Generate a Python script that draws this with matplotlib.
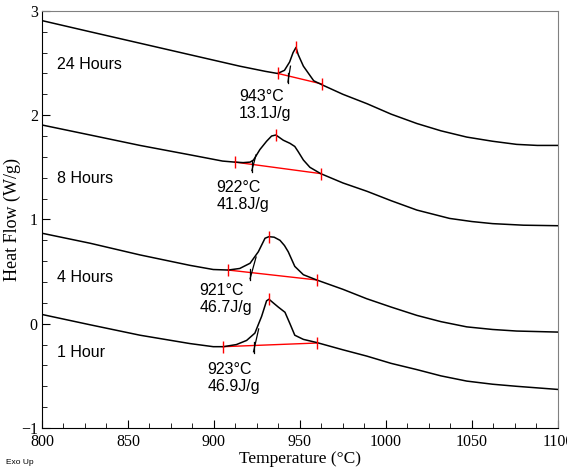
import matplotlib
matplotlib.use("Agg")
import matplotlib.pyplot as plt
from matplotlib.ticker import MultipleLocator, AutoMinorLocator

# DSC traces (temperature in C, heat flow in W/g)
t_24h = [800, 828, 857, 886, 915, 930, 937, 941, 944, 946, 947.7, 949, 952, 955, 958, 963,
         975, 989, 1003, 1018, 1032, 1047, 1062, 1076, 1088, 1100]
hf_24h = [2.907, 2.80, 2.69, 2.58, 2.47, 2.42, 2.40, 2.43, 2.51, 2.60, 2.65, 2.58, 2.47, 2.40,
          2.33, 2.29, 2.20, 2.11, 2.01, 1.92, 1.85, 1.79, 1.75, 1.72, 1.71, 1.71]

t_8h = [800, 828, 857, 886, 905, 912, 917, 921, 923, 926.7, 930.6, 933.5, 936, 940.3, 944.2,
        947, 949, 952, 955.8, 962, 975, 989, 1003, 1018, 1037, 1050, 1062, 1080, 1100]
hf_8h = [1.906, 1.81, 1.71, 1.62, 1.56, 1.55, 1.545, 1.55, 1.57, 1.67, 1.75, 1.80, 1.81, 1.76,
         1.73, 1.70, 1.65, 1.57, 1.50, 1.44, 1.35, 1.27, 1.18, 1.09, 1.01, 0.98, 0.96, 0.945, 0.94]

t_4h = [800, 828, 857, 886, 899.6, 908.3, 915, 921, 925.8, 929.7, 932, 935, 938.4, 941, 943.2,
        947, 952, 959.7, 975, 988.8, 1003, 1018, 1032, 1047, 1062, 1076, 1100]
hf_4h = [0.868, 0.772, 0.66, 0.56, 0.52, 0.515, 0.53, 0.58, 0.69, 0.82, 0.835, 0.83, 0.80, 0.75,
         0.69, 0.55, 0.47, 0.42, 0.33, 0.24, 0.16, 0.08, 0.02, -0.03, -0.055, -0.07, -0.08]

t_1h = [800, 828, 857, 886, 899.6, 905.4, 913, 919, 923.8, 927.7, 930.6, 932, 934.5, 937.4,
        941.3, 944.2, 947, 952, 959.7, 975, 988.8, 1003, 1018, 1032, 1047, 1062, 1076, 1100]
hf_1h = [0.089, -0.01, -0.11, -0.19, -0.22, -0.22, -0.20, -0.16, -0.09, 0.07, 0.22, 0.235, 0.20,
         0.16, 0.11, 0.0, -0.11, -0.15, -0.18, -0.25, -0.31, -0.38, -0.44, -0.50, -0.55, -0.58,
         -0.60, -0.63]

curves = [(t_24h, hf_24h), (t_8h, hf_8h), (t_4h, hf_4h), (t_1h, hf_1h)]
names = ["24 Hours", "8 Hours", "4 Hours", "1 Hour"]
name_y = [2.49, 1.39, 0.44, -0.28]

# integration baselines (start, end) and peak points
base_t = [(937.2, 962.6), (912.2, 962.0), (908.3, 959.7), (905.4, 959.7)]
base_hf = [(2.40, 2.30), (1.55, 1.44), (0.515, 0.42), (-0.22, -0.185)]
peak_t = [947.7, 936.0, 932.0, 932.0]
peak_hf = [2.65, 1.81, 0.835, 0.235]

# onset (extrapolated) and top of the tangent used
onset_t = [943, 922, 921, 923]
tan_top_t = [944.5, 924.5, 924.5, 926.0]
tan_top_hf = [2.47, 1.62, 0.64, -0.05]

results = ["943°C\n13.1J/g", "922°C\n41.8J/g", "921°C\n46.7J/g", "923°C\n46.9J/g"]
res_t = [914.5, 901.6, 891.5, 896.3]
res_hf = [2.10, 1.225, 0.235, -0.52]

sans = "Liberation Sans"
serif = "Liberation Serif"

fig = plt.figure(figsize=(5.67, 4.74), dpi=100)
ax = fig.add_axes([0.074, 0.097, 0.910, 0.880])

for i, (t, hf) in enumerate(curves):
    ax.plot(t, hf, color="black", lw=1.1, zorder=3)
    ax.plot(base_t[i], base_hf[i], color="red", lw=1.0, zorder=2)
    ax.plot(base_t[i], base_hf[i], ls="none", marker="|", ms=9, mew=1.0, color="red", zorder=4)
    ax.plot([peak_t[i]], [peak_hf[i]], ls="none", marker="|", ms=9, mew=1.0, color="red", zorder=4)
    # onset tangent
    t0, t1 = base_t[i]
    h0, h1 = base_hf[i]
    yb = h0 + (h1 - h0) * (onset_t[i] - t0) / (t1 - t0)
    ax.plot([onset_t[i], tan_top_t[i]], [yb - 0.06, tan_top_hf[i]], color="black", lw=0.9, zorder=3)
    ax.plot([onset_t[i], onset_t[i]], [yb - 0.07, yb + 0.03], color="black", lw=0.9, zorder=3)
    ax.text(808.7, name_y[i], names[i], fontsize=11.5, family=sans, va="center", ha="left")
    ax.text(res_t[i], res_hf[i], results[i], fontsize=11.5, family=sans, va="center", ha="left",
            linespacing=1.2)

ax.set_xlim(800, 1100)
ax.set_ylim(-1, 3)
ax.xaxis.set_major_locator(MultipleLocator(50))
ax.xaxis.set_minor_locator(AutoMinorLocator(4))
ax.yaxis.set_major_locator(MultipleLocator(1))
ax.yaxis.set_minor_locator(AutoMinorLocator(5))
ax.tick_params(which="both", direction="in", top=False, right=False)
ax.tick_params(which="major", length=6, labelsize=11.5)
ax.tick_params(axis="x", which="major", pad=4)
ax.tick_params(axis="y", which="major", pad=3)
ax.tick_params(which="minor", length=3.5)
for lbl in ax.get_xticklabels() + ax.get_yticklabels():
    lbl.set_family(serif)

for s in ["top", "right"]:
    ax.spines[s].set_color("#808080")

ax.set_xlabel("Temperature (°C)", family=serif, fontsize=12.5, labelpad=1)
ax.set_ylabel("Heat Flow (W/g)", family=serif, fontsize=13, va="center")
ax.yaxis.set_label_coords(-0.058, 0.5)
fig.text(0.01, 0.022, "Exo Up", family=sans, fontsize=6)

fig.savefig("out.png", dpi=100)
